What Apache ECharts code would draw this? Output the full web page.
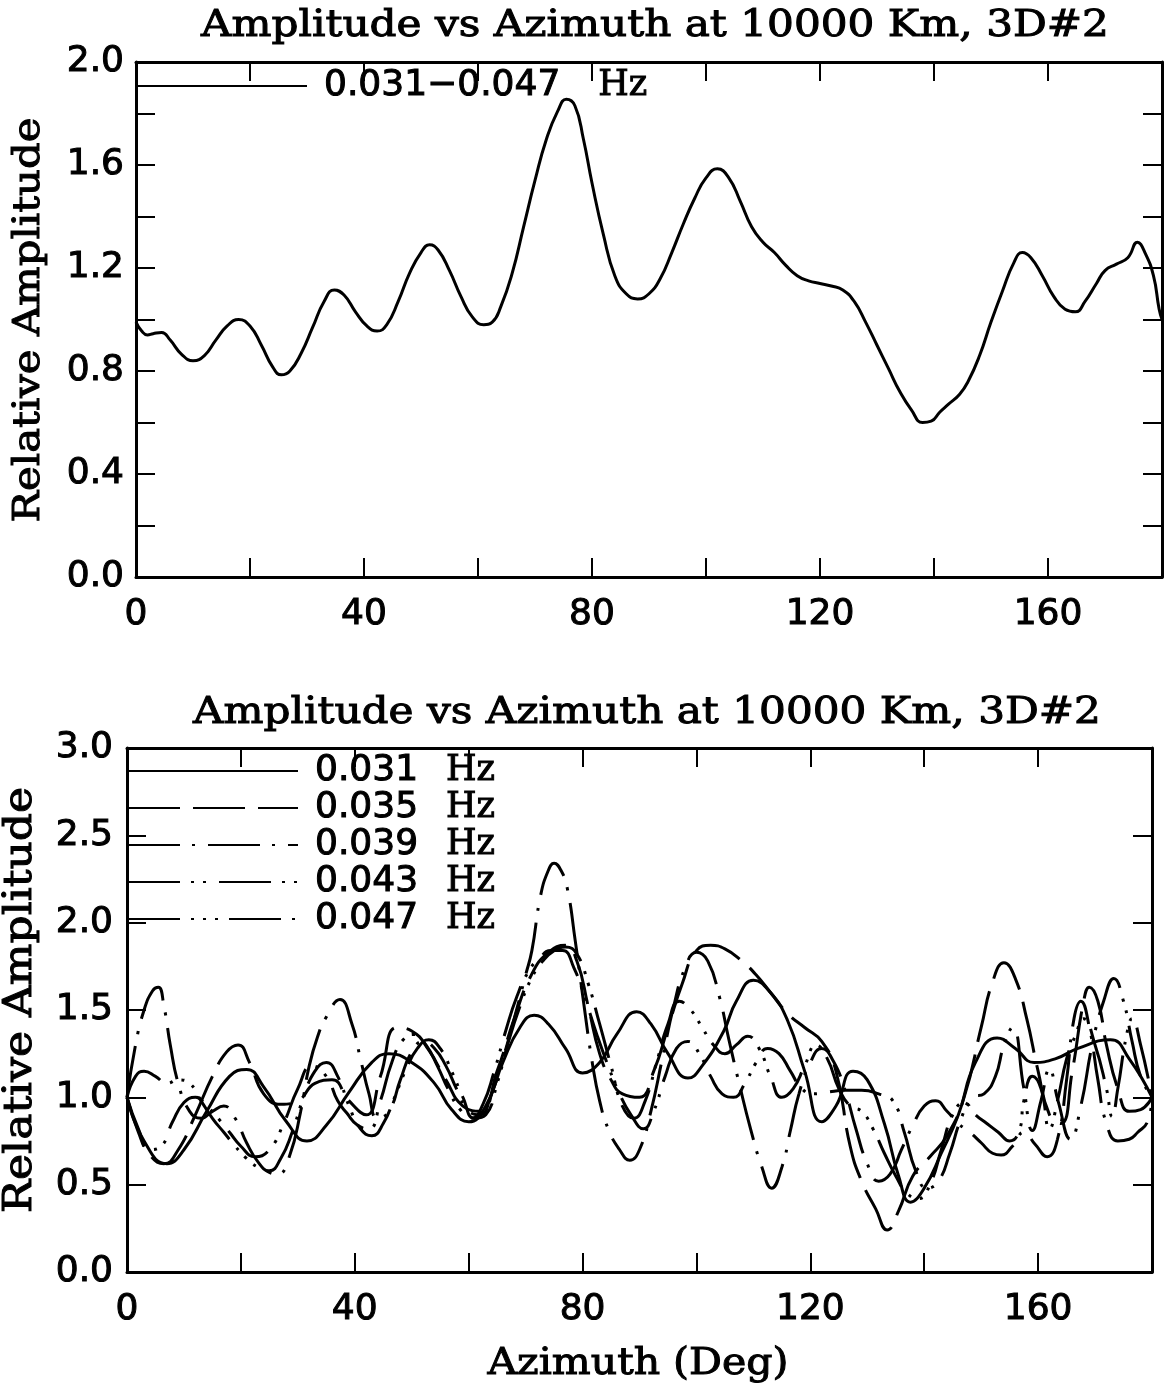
<!DOCTYPE html>
<html><head><meta charset="utf-8">
<script src="https://cdn.jsdelivr.net/npm/echarts/dist/echarts.min.js"></script>
<style>html,body{margin:0;padding:0;background:#fff}#c{width:1169px;height:1393px}</style>
</head><body><div id="c"></div>
<script>
// ---------- text ----------
const titleText = 'Amplitude vs Azimuth at 10000 Km, 3D#2';
const yName = 'Relative Amplitude';
const xName = 'Azimuth (Deg)';
const xTickLabels = ['0', '40', '80', '120', '160'];
const yTickLabelsTop = ['0.0', '0.4', '0.8', '1.2', '1.6', '2.0'];
const yTickLabelsBot = ['0.0', '0.5', '1.0', '1.5', '2.0', '2.5', '3.0'];
const topName = '0.031\u22120.047 Hz';
const botNames = ['0.031 Hz', '0.035 Hz', '0.039 Hz', '0.043 Hz', '0.047 Hz'];

// ---------- data: [azimuth (deg), relative amplitude] ----------
const bandAvg = [[0,0.99],[1,0.955],[2,0.94],[3,0.945],[4.5,0.95],[6,0.92],[8,0.865],[10,0.84],[12,0.86],[14,0.92],[16,0.975],[18,1.00],[20,0.975],[22,0.90],[24,0.815],[25.5,0.785],[27,0.80],[29,0.87],[31,0.97],[33,1.07],[34.8,1.115],[36.5,1.095],[38.5,1.03],[40.5,0.975],[42.3,0.955],[44,0.98],[46,1.07],[48,1.18],[50,1.26],[51.5,1.29],[53,1.27],[55,1.19],[57,1.09],[59,1.01],[61,0.98],[62.5,0.99],[64,1.05],[66,1.18],[68,1.36],[70,1.54],[72,1.70],[74,1.81],[75.5,1.855],[77,1.83],[78.5,1.70],[80,1.53],[82,1.33],[84,1.17],[86,1.10],[88,1.08],[90,1.10],[92,1.16],[94,1.26],[96,1.37],[98,1.47],[100,1.55],[102,1.585],[104,1.55],[106,1.46],[108,1.36],[110,1.30],[112,1.26],[114,1.21],[116,1.17],[118,1.15],[120,1.14],[122,1.13],[124,1.115],[126,1.07],[128,0.99],[130,0.90],[132,0.81],[134,0.72],[136,0.65],[138,0.60],[139.5,0.605],[141,0.64],[142.5,0.67],[144.5,0.71],[146,0.76],[148,0.86],[150,0.99],[152,1.11],[154,1.22],[155.5,1.26],[157,1.24],[159,1.17],[161,1.09],[163,1.04],[164.8,1.03],[166.5,1.07],[168.5,1.14],[170,1.19],[172,1.215],[174,1.24],[175.7,1.30],[177,1.26],[178.5,1.17],[179.5,1.04],[180,1.00]];

const f031 = [[0,1.00],[3,0.75],[7,0.62],[10,0.70],[14,0.92],[18,1.12],[21,1.16],[24,1.06],[28,0.86],[31.6,0.75],[35,0.84],[39,1.03],[43,1.20],[46,1.25],[50,1.20],[54,1.08],[57,0.93],[60,0.86],[63,0.95],[66,1.20],[69,1.40],[71.5,1.47],[74,1.42],[77,1.28],[80,1.14],[83,1.20],[86,1.36],[89.5,1.49],[92,1.42],[95,1.25],[98.5,1.11],[101,1.18],[104.8,1.38],[107,1.55],[110,1.67],[113,1.60],[116,1.44],[119,1.15],[122,0.86],[124.5,0.95],[127.5,1.15],[130,1.10],[133,0.85],[135.5,0.55],[137.6,0.40],[140,0.48],[143,0.68],[146,0.90],[149,1.20],[152.8,1.34],[156,1.28],[159.3,1.20],[163,1.22],[167,1.28],[172.7,1.33],[176,1.22],[180,1.00]];

const f035 = [[0,1.00],[2,0.80],[4,0.67],[6.5,0.62],[9,0.70],[12,0.90],[15,1.12],[17.5,1.26],[19.5,1.30],[21.5,1.20],[24,1.02],[27,0.96],[30,0.98],[33,1.08],[36,1.10],[39,0.98],[42,0.90],[44.5,1.12],[47.4,1.40],[50,1.38],[53,1.27],[56,1.10],[59,0.95],[62,0.92],[65,1.15],[68,1.45],[71,1.70],[74,1.83],[77,1.87],[79,1.78],[81,1.52],[83,1.25],[85,1.10],[87,1.02],[90,1.00],[92.5,1.15],[95,1.40],[97.5,1.65],[100,1.84],[102.5,1.87],[105,1.85],[108,1.78],[110.5,1.70],[113,1.60],[116,1.48],[119,1.40],[122,1.32],[124.5,1.15],[127,0.72],[129,0.52],[131.5,0.36],[133.5,0.24],[135.5,0.35],[138,0.55],[141,0.66],[144,0.78],[147,1.00],[150,1.40],[152,1.66],[154,1.77],[156,1.68],[158,1.45],[160,1.15],[162,0.90],[164,0.85],[166,1.15],[168,1.55],[169,1.63],[170.5,1.55],[172,1.30],[174,1.05],[176,0.92],[178,0.93],[180,1.00]];

const f039 = [[0,1.00],[1.5,1.30],[3,1.50],[4.5,1.61],[5.5,1.63],[6.5,1.52],[7.6,1.30],[9,1.08],[11,0.92],[13,0.88],[15,0.92],[17,0.95],[19,0.88],[21,0.74],[23,0.63],[25,0.57],[26.5,0.56],[28.5,0.66],[30.5,0.92],[32,1.18],[33.5,1.35],[35,1.46],[37.4,1.56],[39.5,1.42],[41,1.22],[42.5,1.02],[44,0.88],[46,0.92],[48,1.10],[50,1.26],[52,1.32],[54,1.28],[56,1.18],[58,1.04],[60,0.92],[62,0.90],[64,1.02],[66,1.22],[68,1.45],[70,1.70],[71.1,1.84],[72.6,2.15],[74,2.30],[75,2.34],[76.2,2.30],[77.3,2.20],[78.7,1.90],[80.2,1.54],[81.7,1.20],[83,0.98],[84.5,0.82],[86.5,0.70],[88.3,0.64],[90,0.70],[92,0.92],[94,1.22],[96,1.52],[98,1.74],[100,1.83],[102,1.78],[104,1.58],[105.7,1.33],[107.5,1.08],[109.5,0.82],[111.5,0.60],[113.2,0.48],[115,0.60],[116.5,0.81],[118,1.02],[120,1.20],[122,1.28],[124,1.21],[126,1.05],[128,0.82],[130,0.62],[132,0.52],[134,0.56],[136,0.70],[138,0.84],[140,0.95],[142,0.98],[144,0.92],[146,0.85],[148,0.80],[150,0.74],[152,0.68],[153.5,0.67],[155.5,0.72],[157.5,0.80],[159.5,0.73],[161.6,0.66],[163.4,0.76],[165,1.10],[166.3,1.45],[167.5,1.55],[169,1.40],[170.5,1.10],[172,0.85],[174,0.75],[176,0.76],[177.5,0.80],[179.2,0.86],[180,1.00]];

const f043 = [[0,1.00],[2,0.82],[4,0.70],[6,0.72],[8,0.86],[10,0.97],[12,1.00],[14,0.95],[16,0.88],[18,0.80],[20,0.72],[22.5,0.66],[25,0.70],[27.5,0.85],[30,1.05],[32.5,1.18],[35,1.12],[37,0.98],[38.6,0.91],[40.5,0.84],[42.5,0.82],[44.5,0.98],[46.5,1.20],[48.5,1.33],[50.5,1.36],[52.5,1.30],[54.5,1.18],[56.5,1.04],[58.5,0.93],[60.5,0.88],[62.5,0.96],[64.5,1.15],[66.5,1.38],[68.5,1.58],[70.5,1.72],[72.5,1.80],[74.5,1.84],[76.5,1.84],[78.5,1.74],[80.5,1.56],[82.5,1.36],[84.5,1.18],[86.5,1.02],[88.5,0.90],[90.7,0.82],[92.5,0.92],[94.5,1.12],[96.5,1.28],[98.5,1.32],[100.5,1.25],[102.5,1.12],[104.5,1.02],[106.5,1.00],[108.5,1.08],[110.5,1.20],[112.5,1.28],[114.5,1.25],[116.5,1.15],[118.5,1.05],[120.5,1.02],[123,1.03],[126,1.04],[129,1.04],[132,1.02],[134.5,0.98],[136.5,0.80],[138.5,0.58],[140.5,0.48],[142.5,0.52],[144.5,0.68],[146.5,0.88],[148.5,1.00],[150.5,1.02],[152.5,1.12],[154,1.30],[155.5,1.40],[157.5,1.05],[159,0.81],[160.5,0.98],[162,1.16],[163.5,0.98],[165.7,0.76],[167.5,0.95],[169.5,1.30],[171.5,1.55],[173.3,1.68],[175,1.55],[176.5,1.32],[178,1.12],[180,1.00]];

const f047 = [[0,1.00],[1.5,1.12],[3,1.15],[5,1.12],[7,1.08],[9,1.10],[11,1.08],[13,0.98],[15,0.88],[17,0.80],[19,0.72],[21,0.65],[23,0.60],[25,0.58],[27,0.65],[29,0.80],[31,1.00],[33,1.15],[35,1.20],[37,1.12],[39,0.95],[41,0.82],[43,0.78],[45,0.85],[47,1.00],[49,1.16],[51,1.28],[53,1.33],[55,1.28],[57,1.15],[59,1.00],[61,0.88],[63,0.90],[65,1.08],[67,1.32],[69,1.52],[71,1.68],[73,1.78],[75,1.84],[77,1.86],[79,1.82],[81,1.65],[83,1.42],[85,1.18],[87,0.95],[89,0.88],[91,0.98],[93,1.20],[95,1.42],[97,1.55],[99,1.50],[101,1.40],[103,1.30],[105,1.25],[107,1.30],[109,1.35],[111,1.28],[113,1.12],[115,1.00],[117,1.05],[119,1.18],[121,1.30],[123,1.22],[125,1.05],[127,0.95],[129,0.92],[131,0.82],[133,0.68],[135,0.55],[137,0.45],[139,0.42],[141,0.50],[143,0.70],[145,0.90],[147,0.97],[149,0.90],[151,0.85],[153,0.80],[155,0.75],[156.7,0.81],[157.5,0.98],[159,1.12],[160.5,1.05],[162,0.82],[163.4,0.98],[165,1.22],[166.5,1.35],[168,1.45],[170,1.30],[172,1.05],[173,0.89],[174,1.05],[175.5,1.35],[176.5,1.45],[178,1.30],[180,1.00]];

const botData = [f031, f035, f039, f043, f047];

// ---------- styles ----------
const dashes = ['solid', [52, 13], [52, 12, 3, 13], [52, 11, 3, 9, 3, 13], [52, 11, 3, 9, 3, 9, 3, 11]];
const SERIF = '"DejaVu Serif", serif';
const SANS = '"DejaVu Sans", sans-serif';
const lblFmt = (list) => (v) => { const s = (Math.abs(v) < 1e-9 ? 0 : v).toFixed(1); return list.indexOf(s) >= 0 ? s : ''; };
const xFmt = (v) => { const s = String(Math.round(v)); return xTickLabels.indexOf(s) >= 0 ? s : ''; };
const tickFont = { color: '#000', fontFamily: SANS, fontSize: 36, textBorderColor: '#000', textBorderWidth: 1 };

function xAx(grid, pos, withLabels, margin) {
  return {
    type: 'value', gridIndex: grid, position: pos, min: 0, max: 180, interval: 20,
    axisLine: { show: true, onZero: false, lineStyle: { color: '#000', width: 3 } },
    axisTick: { show: true, inside: true, length: 19, lineStyle: { color: '#000', width: 2 } },
    axisLabel: Object.assign({ show: withLabels, formatter: xFmt, margin: margin || 20 }, tickFont),
    splitLine: { show: false }
  };
}
function yAx(grid, pos, max, interval, labels, withLabels, margin) {
  return {
    type: 'value', gridIndex: grid, position: pos, min: 0, max: max, interval: interval,
    axisLine: { show: true, onZero: false, lineStyle: { color: '#000', width: 3 } },
    axisTick: { show: true, inside: true, length: 19, lineStyle: { color: '#000', width: 2 } },
    axisLabel: Object.assign({ show: withLabels, formatter: lblFmt(labels), margin: margin }, tickFont),
    splitLine: { show: false }
  };
}

function legendRich(hzGap) {
  return {
    n: { fontFamily: SANS, fontSize: 36, color: '#000', lineHeight: 35, padding: [0, 0, 0, 12], textBorderColor: '#000', textBorderWidth: 1 },
    h: { fontFamily: SERIF, fontSize: 35, color: '#000', lineHeight: 35, padding: [0, 0, 0, hzGap], textBorderColor: '#000', textBorderWidth: 1 }
  };
}
const legendFmt = (name) => { const i = name.lastIndexOf(' '); return '{n|' + name.slice(0, i) + '}{h|' + name.slice(i + 1) + '}'; };

const series = [{
  name: topName, type: 'line', xAxisIndex: 0, yAxisIndex: 0, data: bandAvg,
  smooth: 0.5, symbol: 'none', showSymbol: false, silent: true,
  lineStyle: { color: '#000', width: 3, type: 'solid' }
}];
botNames.forEach((nm, i) => series.push({
  name: nm, type: 'line', xAxisIndex: 2, yAxisIndex: 2, data: botData[i],
  smooth: 0.5, symbol: 'none', showSymbol: false, silent: true,
  lineStyle: { color: '#000', width: 3, type: dashes[i], cap: 'butt' }
}));

function label(text, x, y, size, sx, rot) {
  return { type: 'text', x: x, y: y, rotation: rot || 0, scaleX: sx, scaleY: 1, silent: true,
    style: { text: text, fill: '#000', stroke: '#000', lineWidth: 1, font: size + 'px ' + SERIF, align: 'center', verticalAlign: 'middle' } };
}

const option = {
  animation: false,
  backgroundColor: '#fff',
  textStyle: { fontFamily: SANS, color: '#000' },
  grid: [
    { left: 136, right: 7, top: 62, height: 515, containLabel: false, outerBoundsMode: 'none' },
    { left: 127, right: 17, top: 748, height: 524, containLabel: false, outerBoundsMode: 'none' }
  ],
  xAxis: [
    xAx(0, 'bottom', true, 20),
    xAx(0, 'top', false),
    xAx(1, 'bottom', true, 20),
    xAx(1, 'top', false)
  ],
  yAxis: [
    yAx(0, 'left', 2, 0.2, yTickLabelsTop, true, 12),
    yAx(0, 'right', 2, 0.2, yTickLabelsTop, false, 8),
    yAx(1, 'left', 3, 0.5, yTickLabelsBot, true, 14),
    yAx(1, 'right', 3, 0.5, yTickLabelsBot, false, 8)
  ],
  legend: [
    { data: [topName], orient: 'vertical', left: 136, top: 67.5, padding: 0, itemGap: 0,
      itemWidth: 170, itemHeight: 14, selectedMode: false, formatter: legendFmt,
      itemStyle: { color: 'rgba(0,0,0,0)', borderColor: 'rgba(0,0,0,0)', borderWidth: 0 },
      textStyle: { rich: legendRich(38) } },
    { data: botNames, orient: 'vertical', left: 127, top: 752.5, padding: 0, itemGap: 0,
      itemWidth: 170, itemHeight: 14, selectedMode: false, formatter: legendFmt,
      itemStyle: { color: 'rgba(0,0,0,0)', borderColor: 'rgba(0,0,0,0)', borderWidth: 0 },
      textStyle: { rich: legendRich(28) } }
  ],
  graphic: [
    label(titleText, 655, 26, 37, 1.14),
    label(titleText, 647, 713, 37, 1.14),
    label(yName, 29, 320, 38, 1.1, Math.PI / 2),
    label(yName, 21, 1000, 40, 1.1, Math.PI / 2),
    label(xName, 638, 1364, 38, 1.08)
  ],
  series: series
};

const chart = echarts.init(document.getElementById('c'), null, { renderer: 'canvas', width: 1169, height: 1393 });
chart.setOption(option);
</script>
</body></html>
